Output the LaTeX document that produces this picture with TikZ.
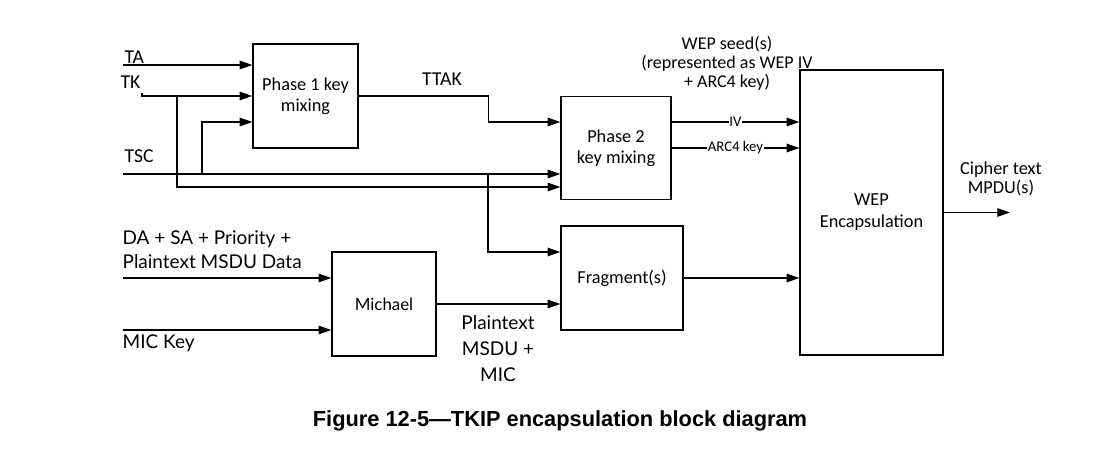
\documentclass[tikz,border=0pt]{standalone}
\usepackage{fontspec}
\setmainfont{Carlito}
\newfontfamily\latofont{Lato}
\newfontfamily\captionfont{Liberation Sans}
\usetikzlibrary{arrows.meta, calc, positioning}

\begin{document}
\begin{tikzpicture}[x=0.025cm,y=-0.025cm,>={Triangle[length=9pt,width=6pt]},
  line width=0.9pt,
  block/.style={draw,inner sep=0pt,align=center,font=\fontsize{13}{15}\selectfont},
  lbl/.style={inner sep=0pt,align=center,font=\fontsize{14}{16}\selectfont},
  latolbl/.style={inner sep=0pt,font=\latofont\fontsize{13.5}{17}\selectfont},
  tag/.style={fill=white,inner sep=0.6pt,font=\fontsize{10.5}{11}\selectfont}]
  \useasboundingbox (0,0) rectangle (1106,457);
  % blocks
  \node[block,minimum width=2.625cm,minimum height=2.6cm] (ph1) at (305.5,96) {Phase 1 key\\mixing};
  \node[block,minimum width=2.75cm,minimum height=2.575cm] (ph2) at (616,148) {Phase 2\\key mixing};
  \node[block,minimum width=3.05cm,minimum height=2.6cm] (frag) at (622,278) {Fragment(s)};
  \node[block,minimum width=2.6cm,minimum height=2.6cm,font=\latofont\fontsize{12}{15}\selectfont] (mich) at (384,304) {Michael};
  \node[block,minimum width=3.575cm,minimum height=7.125cm,font=\fontsize{13}{15.5}\selectfont] (wep) at (871.5,212.5) {WEP\\Encapsulation};
  % inputs
  \coordinate (ta) at (123,65);
  \coordinate (tk) at (142,93);
  \coordinate (tsc) at (123,174);
  \coordinate (tkfork) at (177,96);
  \coordinate (tscfork) at (202,174);
  \coordinate (fragfork) at (488,174);
  \coordinate (da) at (123,278);
  \coordinate (mk) at (123,330);
  \coordinate (out) at (1010,212.5);
  \node[lbl,anchor=west] (talbl) at (124,57) {TA};
  \node[lbl,anchor=west] (tklbl) at (120,82) {TK};
  \node[lbl,anchor=west] (tsclbl) at (124,156) {TSC};
  \node[latolbl,anchor=west,align=left] (dalbl) at (122,250)
    {DA + SA + Priority +\\Plaintext MSDU Data};
  \node[latolbl,anchor=west] (mklbl) at (122,343) {MIC Key};
  % key mixing
  \draw[->] (ta) -- (ta -| ph1.west);
  \draw[->] (tk) |- (ph1.west);
  \draw[->] (tscfork) |- ($(ph1.west)+(0,26)$);
  \draw[->] (tsc) -- (tsc -| ph2.west);
  \draw[->] (tkfork) |- ($(ph2.west)+(0,39)$);
  \draw[->] (ph1.east) -- ++(130,0) |- ($(ph2.west)+(0,-26)$);
  \node[lbl] (ttak) at (442,79) {TTAK};
  \draw[->] (fragfork) |- ($(frag.west)+(0,-26)$);
  % MIC
  \draw[->] (da) -- (da -| mich.west);
  \draw[->] (mk) -- (mk -| mich.west);
  \draw[->] (mich.east) -- (mich.east -| frag.west);
  \node[latolbl,align=center,font=\latofont\fontsize{13.5}{18.5}\selectfont] (msdu) at (498,349) {Plaintext\\MSDU +\\MIC};
  % WEP
  \draw[->] ($(ph2.east)+(0,-26)$) -- node[tag]{IV} ($(ph2.east -| wep.west)+(0,-26)$);
  \draw[->] (ph2.east) -- node[tag]{ARC4 key} (ph2.east -| wep.west);
  \node[lbl,font=\fontsize{12.8}{13.5}\selectfont] (seed) at (727,63)
    {WEP seed(s)\\(represented as WEP IV\\+ ARC4 key)};
  \draw[->] (frag.east) -- (frag.east -| wep.west);
  \draw[->] (wep.east) -- (out);
  \node[lbl,font=\fontsize{13}{13.5}\selectfont] (cipher) at (1001,179) {Cipher text\\MPDU(s)};
  % caption
  \node[inner sep=0pt,font=\captionfont\bfseries\fontsize{15.5}{17}\selectfont] (cap) at (560,421)
    {Figure 12-5—TKIP encapsulation block diagram};
\end{tikzpicture}
\end{document}
